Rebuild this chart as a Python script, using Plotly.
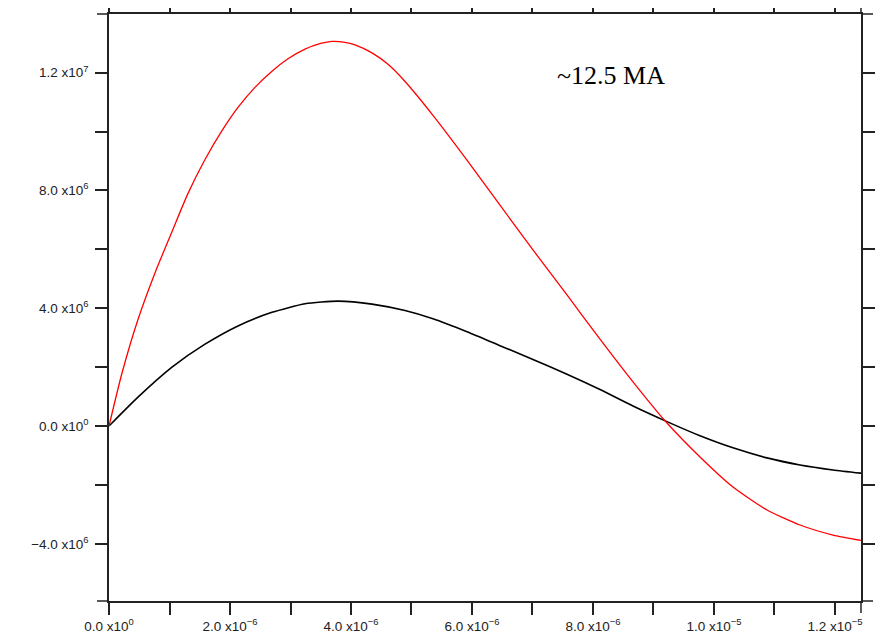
import plotly.graph_objects as go

# time (s)
x_red = [0, 0.215e-6, 0.479e-6, 0.760e-6, 1.041e-6, 1.306e-6, 1.587e-6, 1.868e-6, 2.132e-6,
         2.413e-6, 2.694e-6, 2.959e-6, 3.240e-6, 3.50e-6, 3.686e-6, 3.90e-6, 4.066e-6,
         4.347e-6, 4.612e-6, 4.893e-6, 5.355e-6, 5.917e-6, 6.463e-6, 7.008e-6, 7.570e-6,
         8.116e-6, 8.661e-6, 9.190e-6, 9.769e-6, 10.314e-6, 10.876e-6, 11.421e-6,
         11.967e-6, 12.43e-6]
y_red = [0, 1.80e6, 3.62e6, 5.20e6, 6.60e6, 7.90e6, 9.05e6, 10.03e6, 10.82e6,
         11.50e6, 12.05e6, 12.47e6, 12.80e6, 12.99e6, 13.06e6, 13.03e6, 12.94e6,
         12.67e6, 12.28e6, 11.70e6, 10.55e6, 9.03e6, 7.50e6, 5.98e6, 4.45e6,
         2.95e6, 1.50e6, 0.18e6, -1.05e6, -2.07e6, -2.85e6, -3.36e6,
         -3.70e6, -3.88e6]

x_black = [0, 0.479e-6, 1.041e-6, 1.587e-6, 2.132e-6, 2.694e-6, 3.240e-6, 3.785e-6,
           4.347e-6, 4.893e-6, 5.355e-6, 5.917e-6, 6.463e-6, 7.008e-6, 7.570e-6,
           8.116e-6, 8.661e-6, 9.223e-6, 9.769e-6, 10.314e-6, 10.876e-6, 11.421e-6,
           11.967e-6, 12.43e-6]
y_black = [0, 0.98e6, 2.00e6, 2.78e6, 3.40e6, 3.86e6, 4.15e6, 4.24e6,
           4.14e6, 3.92e6, 3.64e6, 3.20e6, 2.73e6, 2.26e6, 1.76e6,
           1.24e6, 0.68e6, 0.15e6, -0.33e6, -0.74e6, -1.08e6, -1.32e6,
           -1.49e6, -1.60e6]

x_tickvals = [0, 2e-6, 4e-6, 6e-6, 8e-6, 1.0e-5, 1.2e-5]
x_ticktext = ["0.0 x10<sup>0</sup>", "2.0 x10<sup>−6</sup>", "4.0 x10<sup>−6</sup>",
              "6.0 x10<sup>−6</sup>", "8.0 x10<sup>−6</sup>", "1.0 x10<sup>−5</sup>",
              "1.2 x10<sup>−5</sup>"]
y_tickvals = [-4e6, 0, 4e6, 8e6, 1.2e7]
y_ticktext = ["−4.0 x10<sup>6</sup>", "0.0 x10<sup>0</sup>", "4.0 x10<sup>6</sup>",
              "8.0 x10<sup>6</sup>", "1.2 x10<sup>7</sup>"]

annotation_text = "~12.5 MA"

fig = go.Figure()
fig.add_trace(go.Scatter(x=x_black, y=y_black, mode="lines",
                         line=dict(color="black", width=1.6, shape="spline", smoothing=0.6),
                         showlegend=False))
fig.add_trace(go.Scatter(x=x_red, y=y_red, mode="lines",
                         line=dict(color="#ff0000", width=1.3, shape="spline", smoothing=0.6),
                         showlegend=False))

axis_col = "#222222"
common = dict(showgrid=False, zeroline=False, showline=True, linecolor=axis_col,
              linewidth=1.5, ticks="outside", ticklen=12, tickwidth=1.5,
              tickcolor=axis_col, mirror="ticks", automargin=False,
              tickfont=dict(family="Liberation Sans, Arial, sans-serif", size=13.5, color="#222"))

fig.update_xaxes(range=[0, 12.43e-6], tickmode="array", tickvals=x_tickvals,
                 ticktext=x_ticktext,
                 minor=dict(dtick=1e-6, tick0=0, ticks="outside", ticklen=12,
                            tickwidth=1.5, tickcolor=axis_col),
                 **common)
fig.update_yaxes(range=[-5.94e6, 13.99e6], tickmode="array", tickvals=y_tickvals,
                 ticktext=y_ticktext, ticklabelstandoff=4,
                 minor=dict(dtick=2e6, tick0=0, ticks="outside", ticklen=12,
                            tickwidth=1.5, tickcolor=axis_col),
                 **common)

fig.add_annotation(x=0.6676, y=0.896, xref="paper", yref="paper", text=annotation_text,
                   showarrow=False, xanchor="center", yanchor="middle",
                   font=dict(family="Liberation Serif, Times New Roman, serif", size=26,
                             color="black"))

# frame-line extensions beyond the plot corners
ext = []
for yv in (0, 1):
    ext.append(dict(type="line", xref="paper", yref="paper", xsizemode="pixel",
                    xanchor=0, x0=-12, x1=0, y0=yv, y1=yv,
                    line=dict(color=axis_col, width=1.5)))
    ext.append(dict(type="line", xref="paper", yref="paper", xsizemode="pixel",
                    xanchor=1, x0=0, x1=12, y0=yv, y1=yv,
                    line=dict(color=axis_col, width=1.5)))
for xv in (0, 1):
    ext.append(dict(type="line", xref="paper", yref="paper", ysizemode="pixel",
                    yanchor=1, y0=0, y1=13, x0=xv, x1=xv,
                    line=dict(color=axis_col, width=1.5)))
    ext.append(dict(type="line", xref="paper", yref="paper", ysizemode="pixel",
                    yanchor=0, y0=-12, y1=0, x0=xv, x1=xv,
                    line=dict(color=axis_col, width=1.5)))
fig.update_layout(shapes=ext)

fig.update_layout(width=885, height=638,
                  margin=dict(l=101, r=32, t=6, b=45, autoexpand=False),
                  plot_bgcolor="white", paper_bgcolor="white")

fig.write_html("out.html")
